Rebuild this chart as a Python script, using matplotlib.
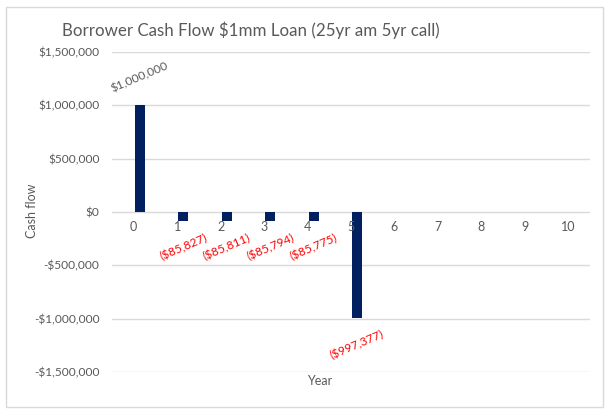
import matplotlib
matplotlib.use("Agg")
import matplotlib.pyplot as plt
from matplotlib.ticker import FuncFormatter, MultipleLocator
from matplotlib.patches import Rectangle

years = list(range(11))
cash_flow = [1000000, -85827, -85811, -85794, -85775, -997377, 0, 0, 0, 0, 0]
labels = ["$1,000,000", "($85,827)", "($85,811)", "($85,794)", "($85,775)", "($997,377)",
          None, None, None, None, None]

plt.rcParams['font.family'] = ['Lato', 'DejaVu Sans']
gray = '#595959'

fig = plt.figure(figsize=(6.09, 4.13), dpi=100)
fig.patches.append(Rectangle((6/609, 6/413), 597/609, 400/413, transform=fig.transFigure,
                             fill=False, edgecolor='#d9d9d9', linewidth=1))
ax = fig.add_axes([112/609, 1-372/413, (590-112)/609, (372-52)/413])

xs = [y + 0.14 for y in years]
ax.bar(xs, cash_flow, width=0.23, color='#002060', zorder=3)

ax.set_xlim(-0.5, 10.5)
ax.set_ylim(-1500000, 1500000)
ax.yaxis.set_major_locator(MultipleLocator(500000))

def fmt(v, pos):
    v = int(round(v))
    if v < 0:
        return "-${:,}".format(-v)
    return "${:,}".format(v)
ax.yaxis.set_major_formatter(FuncFormatter(fmt))
ax.grid(axis='y', color='#d9d9d9', linewidth=1, zorder=0)
for s in ax.spines.values():
    s.set_visible(False)
ax.tick_params(axis='y', length=0, labelsize=8.6, labelcolor=gray, pad=9)
ax.set_xticks([])
for y in years:
    ax.text(y, -85000, str(y), ha='center', va='top', fontsize=9, color=gray)

for x, v, lab in zip(xs, cash_flow, labels):
    if lab is None:
        continue
    if v > 0:
        ax.annotate(lab, (x, v), xytext=(0, 20), textcoords='offset points',
                    ha='center', va='center', rotation=23, fontsize=8.6, color=gray)
    else:
        ax.annotate(lab, (x, v), xytext=(0, -19), textcoords='offset points',
                    ha='center', va='center', rotation=23, fontsize=8.6, color='#ff0000')

fig.text(32/609, 1-211/413, "Cash flow", rotation=90, ha='center', va='center',
         fontsize=9, color=gray)
fig.text(320/609, 1-381/413, "Year", ha='center', va='center', fontsize=9, color=gray)
fig.text(62/609, 1-30/413, "Borrower Cash Flow $1mm Loan (25yr am 5yr call)",
         ha='left', va='center', fontsize=12.2, color=gray)

fig.savefig("out.png", dpi=100)
